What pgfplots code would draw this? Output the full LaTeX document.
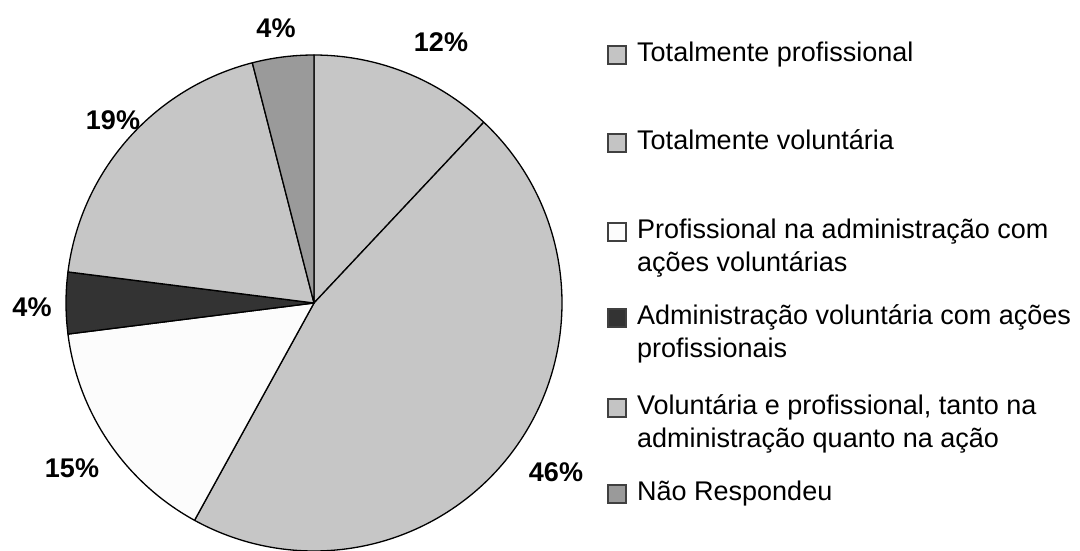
\documentclass[border=0pt]{standalone}
\usepackage{pgfplots}
\pgfplotsset{compat=1.18}
\usepackage{fontspec}
\setmainfont{Liberation Sans}
\definecolor{cLight}{HTML}{C6C6C6}
\definecolor{cWhite}{HTML}{FCFCFC}
\definecolor{cDark}{HTML}{333333}
\definecolor{cMid}{HTML}{9A9A9A}
\definecolor{cLeg}{HTML}{C4C4C4}
\begin{document}
\begin{tikzpicture}
\useasboundingbox (0,0) rectangle (1080pt,550pt);
% data (percent)
\def\pA{12}\def\pB{46}\def\pC{15}\def\pD{4}\def\pE{19}\def\pF{4}
\pgfmathsetmacro\aZ{90}
\pgfmathsetmacro\aA{\aZ-3.6*\pA}
\pgfmathsetmacro\aB{\aA-3.6*\pB}
\pgfmathsetmacro\aC{\aB-3.6*\pC}
\pgfmathsetmacro\aD{\aC-3.6*\pD}
\pgfmathsetmacro\aE{\aD-3.6*\pE}
\pgfmathsetmacro\aF{\aE-3.6*\pF}
\begin{axis}[
  at={(0,0)}, anchor=south west,
  width=1080pt, height=550pt, scale only axis,
  xmin=0, xmax=1080, ymin=0, ymax=550,
  hide axis, clip=false,
  every axis plot/.append style={draw=black, line width=1.3pt, line join=round, variable=\t},
]
\addplot[fill=cLight, domain=\aA:\aZ, samples=60] ({314+248*cos(t)},{247+248*sin(t)}) -- (axis cs:314,247) -- cycle;
\addplot[fill=cLight, domain=\aB:\aA, samples=160] ({314+248*cos(t)},{247+248*sin(t)}) -- (axis cs:314,247) -- cycle;
\addplot[fill=cWhite, domain=\aC:\aB, samples=60] ({314+248*cos(t)},{247+248*sin(t)}) -- (axis cs:314,247) -- cycle;
\addplot[fill=cDark, domain=\aD:\aC, samples=30] ({314+248*cos(t)},{247+248*sin(t)}) -- (axis cs:314,247) -- cycle;
\addplot[fill=cLight, domain=\aE:\aD, samples=80] ({314+248*cos(t)},{247+248*sin(t)}) -- (axis cs:314,247) -- cycle;
\addplot[fill=cMid, domain=\aF:\aE, samples=30] ({314+248*cos(t)},{247+248*sin(t)}) -- (axis cs:314,247) -- cycle;

% percentage labels
\begin{scope}[every node/.style={font=\fontsize{27}{30}\selectfont\bfseries, inner sep=0pt}]
\node at (axis cs:441,508) {12\%};
\node at (axis cs:556,78) {46\%};
\node at (axis cs:72,82) {15\%};
\node at (axis cs:32,243) {4\%};
\node at (axis cs:113,430) {19\%};
\node at (axis cs:276,522) {4\%};
\end{scope}

% legend
\begin{scope}[every node/.style={font=\fontsize{27}{33}\selectfont, inner sep=0pt, anchor=base west, align=left}]
\draw[draw=black!75, line width=1.1pt, fill=cLeg]   (axis cs:608,504) rectangle (axis cs:626,486);
\node at (axis cs:637,488.5) {Totalmente profissional};
\draw[draw=black!75, line width=1.1pt, fill=cLeg]   (axis cs:608,416) rectangle (axis cs:626,398);
\node at (axis cs:637,400.5) {Totalmente voluntária};
\draw[draw=black!75, line width=1.1pt, fill=cWhite] (axis cs:608,327) rectangle (axis cs:626,309);
\node at (axis cs:637,278.5) {Profissional na administração com\\ações voluntárias};
\draw[draw=black!75, line width=1.1pt, fill=cDark]  (axis cs:608,241) rectangle (axis cs:626,223);
\node at (axis cs:637,192.5) {Administração voluntária com ações\\profissionais};
\draw[draw=black!75, line width=1.1pt, fill=cLeg]   (axis cs:608,151) rectangle (axis cs:626,133);
\node at (axis cs:637,102.5) {Voluntária e profissional, tanto na\\administração quanto na ação};
\draw[draw=black!75, line width=1.1pt, fill=cMid]   (axis cs:608,65) rectangle (axis cs:626,47);
\node at (axis cs:637,49.5) {Não Respondeu};
\end{scope}
\end{axis}
\end{tikzpicture}
\end{document}
